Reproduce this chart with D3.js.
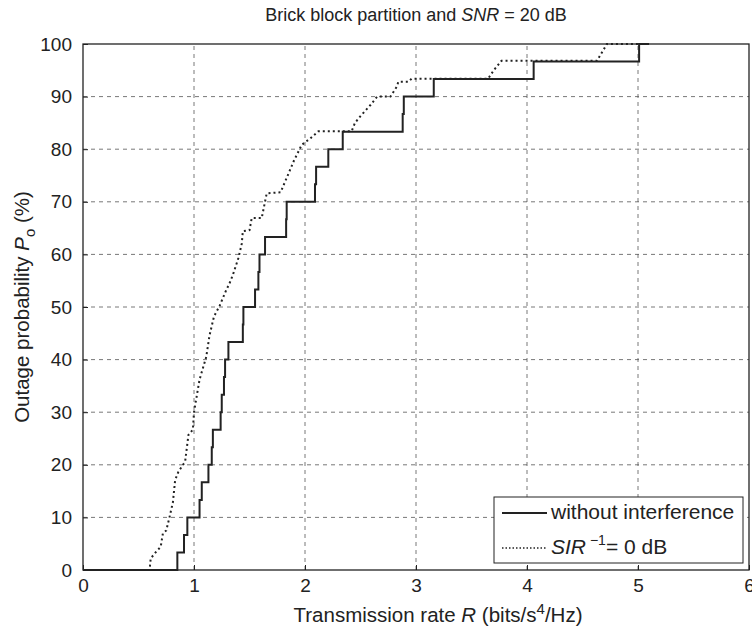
<!DOCTYPE html>
<html>
<head>
<meta charset="utf-8">
<script src="https://cdn.jsdelivr.net/npm/d3@7"></script>
<style>
  body { margin: 0; background: #fff; }
  svg text { font-family: "Liberation Sans", Arial, Helvetica, sans-serif; fill: #222; }
</style>
</head>
<body>
<div id="chart"></div>
<script>
// x ticks and y ticks
const xTicks = [0, 1, 2, 3, 4, 5, 6];
const yTicks = [0, 10, 20, 30, 40, 50, 60, 70, 80, 90, 100];

// without interference: step points [rate, outage %] (value holds after x)
const noInterference = [
  [0, 0], [0.85, 3.33], [0.91, 6.67], [0.94, 10], [1.05, 13.33], [1.07, 16.67],
  [1.13, 20], [1.16, 23.33], [1.17, 26.67], [1.24, 30], [1.25, 33.33], [1.27, 36.67],
  [1.28, 40], [1.31, 43.33], [1.44, 46.67], [1.445, 50], [1.55, 53.33], [1.58, 56.67],
  [1.59, 60], [1.64, 63.33], [1.83, 66.67], [1.835, 70], [2.09, 73.33], [2.10, 76.67],
  [2.21, 80], [2.34, 83.33], [2.88, 86.67], [2.89, 90], [3.16, 93.33], [4.06, 96.67],
  [5.01, 100], [5.1, 100]
];

// SIR^-1 = 0 dB: traced points [rate, outage %]
const sirZeroDb = [
  [0, 0], [0.60, 0], [0.61, 2.2], [0.66, 3.5], [0.70, 4.4], [0.72, 7], [0.75, 7.5],
  [0.78, 10.1], [0.81, 12.9], [0.83, 17.1], [0.86, 18.7], [0.92, 20.6], [0.95, 25.7],
  [0.99, 26.7], [1.00, 30], [1.02, 32.5], [1.05, 36.2], [1.11, 40.5], [1.14, 44.6],
  [1.18, 48.2], [1.23, 50.2], [1.29, 53.2], [1.32, 54.5], [1.35, 56.1], [1.40, 59.3],
  [1.43, 62], [1.44, 64.4], [1.50, 64.6], [1.52, 66.9], [1.61, 66.9], [1.655, 71.6],
  [1.78, 71.8], [1.84, 74.8], [1.90, 77.8], [1.97, 80.8], [2.05, 82.1], [2.12, 83.4],
  [2.42, 83.4], [2.45, 85], [2.50, 86.3], [2.59, 88.4], [2.65, 90], [2.77, 90],
  [2.83, 92], [2.84, 92.8], [2.93, 92.8], [2.96, 93.4], [3.65, 93.4], [3.70, 95],
  [3.77, 96.8], [4.63, 96.8], [4.72, 100], [5.1, 100]
];

const width = 752;
const height = 629;
const margin = { top: 44, right: 3, bottom: 59, left: 83 };

const svg = d3.select("#chart")
  .append("svg")
  .attr("width", width)
  .attr("height", height);

const x = d3.scaleLinear().domain([0, 6]).range([margin.left, width - margin.right]);
const y = d3.scaleLinear().domain([0, 100]).range([height - margin.bottom, margin.top]);

// grid
svg.append("g")
  .selectAll("line.vgrid")
  .data(xTicks.slice(1, -1))
  .enter().append("line")
  .attr("x1", d => x(d)).attr("x2", d => x(d))
  .attr("y1", y(0)).attr("y2", y(100))
  .attr("stroke", "#555").attr("stroke-width", 0.8)
  .attr("stroke-dasharray", "4,4");
svg.append("g")
  .selectAll("line.hgrid")
  .data(yTicks.slice(1, -1))
  .enter().append("line")
  .attr("x1", x(0)).attr("x2", x(6))
  .attr("y1", d => y(d)).attr("y2", d => y(d))
  .attr("stroke", "#555").attr("stroke-width", 0.8)
  .attr("stroke-dasharray", "4,4");

// axes
const xAxis = d3.axisBottom(x).tickValues(xTicks).tickSize(-5).tickPadding(9).tickFormat(d3.format("d"));
const yAxis = d3.axisLeft(y).tickValues(yTicks).tickSize(-5).tickPadding(11).tickFormat(d3.format("d"));

const gx = svg.append("g")
  .attr("transform", `translate(0,${y(0)})`)
  .call(xAxis);
const gy = svg.append("g")
  .attr("transform", `translate(${x(0)},0)`)
  .call(yAxis);
[gx, gy].forEach(g => {
  g.select(".domain").remove();
  g.selectAll("line").attr("stroke", "#222");
  g.selectAll("text").style("font-size", "19px").attr("fill", "#222");
});

// box
svg.append("rect")
  .attr("x", x(0)).attr("y", y(100))
  .attr("width", x(6) - x(0)).attr("height", y(0) - y(100))
  .attr("fill", "none").attr("stroke", "#222").attr("stroke-width", 1.3);

const line = d3.line().x(d => x(d[0])).y(d => y(d[1]));

svg.append("path")
  .datum(sirZeroDb)
  .attr("d", line)
  .attr("fill", "none")
  .attr("stroke", "#222")
  .attr("stroke-width", 2)
  .attr("stroke-dasharray", "2,3");

svg.append("path")
  .datum(noInterference)
  .attr("d", line.curve(d3.curveStepAfter))
  .attr("fill", "none")
  .attr("stroke", "#222")
  .attr("stroke-width", 2);

// title
const title = svg.append("text")
  .attr("x", (x(0) + x(6)) / 2)
  .attr("y", 21)
  .attr("text-anchor", "middle")
  .style("font-size", "18px");
title.append("tspan").text("Brick block partition and ");
title.append("tspan").style("font-style", "italic").text("SNR");
title.append("tspan").text(" = 20 dB");

// x label
const xl = svg.append("text")
  .attr("x", (x(0) + x(6)) / 2 + 22)
  .attr("y", 622)
  .attr("text-anchor", "middle")
  .style("font-size", "20.5px");
xl.append("tspan").text("Transmission rate ");
xl.append("tspan").style("font-style", "italic").text("R");
xl.append("tspan").text(" (bits/s");
xl.append("tspan").attr("dy", -8).style("font-size", "15px").text("4");
xl.append("tspan").attr("dy", 8).text("/Hz)");

// y label
const yl = svg.append("text")
  .attr("transform", `translate(29,${(y(0) + y(100)) / 2}) rotate(-90)`)
  .attr("text-anchor", "middle")
  .style("font-size", "20.5px");
yl.append("tspan").text("Outage probability ");
yl.append("tspan").style("font-style", "italic").text("P");
yl.append("tspan").attr("dy", 6).style("font-size", "15px").text("o");
yl.append("tspan").attr("dy", -6).text(" (%)");

// legend
const lg = svg.append("g").attr("transform", "translate(494,497)");
lg.append("rect")
  .attr("width", 249).attr("height", 66)
  .attr("fill", "#fff").attr("stroke", "#222").attr("stroke-width", 1);
lg.append("line")
  .attr("x1", 8).attr("x2", 53).attr("y1", 16).attr("y2", 16)
  .attr("stroke", "#222").attr("stroke-width", 2);
lg.append("line")
  .attr("x1", 8).attr("x2", 53).attr("y1", 51).attr("y2", 51)
  .attr("stroke", "#222").attr("stroke-width", 1.5).attr("stroke-dasharray", "1.5,2");
lg.append("text").attr("x", 57).attr("y", 22).style("font-size", "21px").text("without interference");
const l2 = lg.append("text").attr("x", 57).attr("y", 57).style("font-size", "21px");
l2.append("tspan").style("font-style", "italic").text("SIR");
l2.append("tspan").attr("dy", -9).style("font-size", "14px").text(" \u22121");
l2.append("tspan").attr("dy", 9).text("= 0 dB");
</script>
</body>
</html>
